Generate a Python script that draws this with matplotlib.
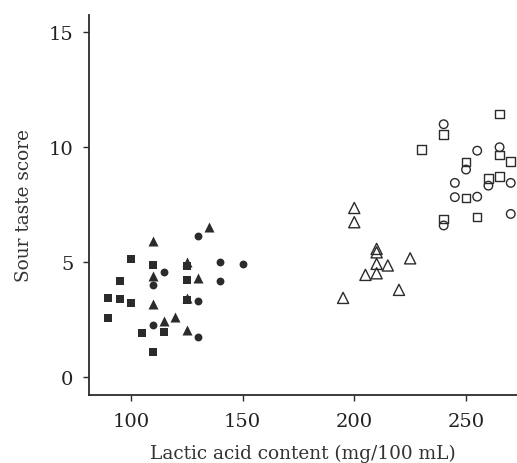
import numpy as np
import matplotlib.pyplot as plt

plt.rcParams['font.family'] = ['DejaVu Serif']

# filled markers (low lactic acid group)
sq_f_x = [90, 90, 95, 95, 100, 100, 105, 110, 110, 115, 125, 125, 125]
sq_f_y = [3.45, 2.57, 4.2, 3.4, 5.15, 3.25, 1.93, 4.9, 1.12, 1.96, 4.23, 3.35, 4.85]

tri_f_x = [110, 110, 110, 115, 120, 125, 125, 125, 130, 135]
tri_f_y = [5.91, 4.42, 3.19, 2.46, 2.6, 5.0, 3.45, 2.06, 4.32, 6.52]

cir_f_x = [110, 110, 115, 130, 130, 130, 140, 140, 150]
cir_f_y = [4.01, 2.28, 4.59, 6.12, 3.33, 1.77, 5.0, 4.19, 4.93]

# open markers (high lactic acid group)
tri_o_x = [195, 200, 200, 205, 210, 210, 210, 210, 215, 220, 225]
tri_o_y = [3.45, 7.36, 6.74, 4.45, 5.58, 5.43, 4.93, 4.52, 4.86, 3.8, 5.17]

sq_o_x = [230, 240, 240, 250, 250, 255, 260, 265, 265, 265, 270]
sq_o_y = [9.9, 10.56, 6.88, 9.35, 7.8, 6.96, 8.65, 11.45, 9.67, 8.72, 9.37]

cir_o_x = [240, 240, 245, 245, 250, 255, 255, 260, 265, 270, 270]
cir_o_y = [11.0, 6.6, 8.45, 7.83, 9.03, 9.85, 7.85, 8.33, 10.0, 8.45, 7.1]

dark = '#2b2b2b'

fig = plt.figure(figsize=(5.17, 4.64), dpi=100)
ax = fig.add_axes([0.1716, 0.1466, 0.8284, 0.819])

ax.scatter(sq_f_x, sq_f_y, marker='s', s=38, color=dark, linewidths=0)
ax.scatter(tri_f_x, tri_f_y, marker='^', s=52, color=dark, linewidths=0)
ax.scatter(cir_f_x, cir_f_y, marker='o', s=32, color=dark, linewidths=0)

ax.scatter(tri_o_x, tri_o_y, marker='^', s=64, facecolors='none', edgecolors=dark, linewidths=1.0)
ax.scatter(sq_o_x, sq_o_y, marker='s', s=38, facecolors='none', edgecolors=dark, linewidths=1.0)
ax.scatter(cir_o_x, cir_o_y, marker='o', s=38, facecolors='none', edgecolors=dark, linewidths=1.0)

ax.set_xlim(81.2, 272.8)
ax.set_ylim(-0.77, 15.75)
ax.set_xticks([100, 150, 200, 250])
ax.set_yticks([0, 5, 10, 15])

for side in ['top', 'right']:
    ax.spines[side].set_visible(False)
for side in ['left', 'bottom']:
    ax.spines[side].set_color(dark)
    ax.spines[side].set_linewidth(1.3)

ax.tick_params(direction='out', length=4, width=1, colors=dark, labelsize=14, labelcolor='#222222')
ax.tick_params(axis='x', pad=8)
ax.tick_params(axis='y', pad=7)
ax.set_xlabel('Lactic acid content (mg/100 mL)', fontsize=13.3, color='#333333', labelpad=10)
ax.set_ylabel('Sour taste score', fontsize=13.3, color='#333333', labelpad=11)

plt.savefig('out.png', dpi=100)
